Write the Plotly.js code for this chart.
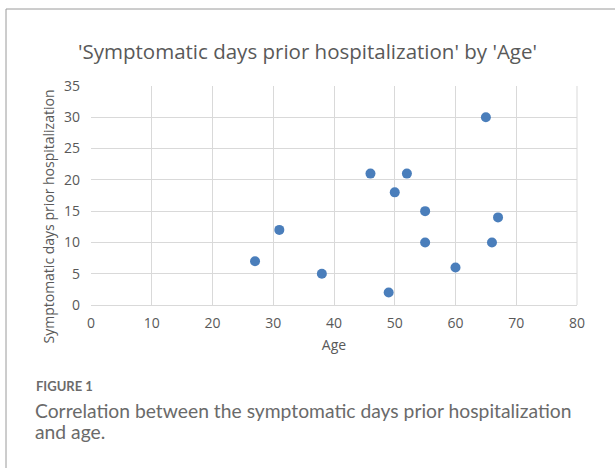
<!DOCTYPE html>
<html>
<head>
<meta charset="utf-8">
<script src="https://cdn.plot.ly/plotly-3.0.1.min.js"></script>
<style>
html,body{margin:0;padding:0;background:#fff;}
#chart{width:615px;height:468px;}
</style>
</head>
<body>
<div id="chart"></div>
<script>
const ages = [27, 31, 38, 46, 49, 50, 52, 55, 55, 60, 65, 66, 67];
const symptomaticDays = [7, 12, 5, 21, 2, 18, 21, 15, 10, 6, 30, 10, 14];
const xTicks = [0, 10, 20, 30, 40, 50, 60, 70, 80];
const yTicks = [0, 5, 10, 15, 20, 25, 30, 35];
const chartTitle = "'Symptomatic days prior hospitalization' by 'Age'";
const xTitle = 'Age';
const yTitle = 'Symptomatic days prior hospitalization';
const figLabel = 'FIGURE 1';
const captionLines = ['Correlation between the symptomatic days prior hospitalization', 'and age.'];

const W = 615, H = 468;
const m = {l: 91, r: 38, t: 86, b: 163};
const pw = W - m.l - m.r, ph = H - m.t - m.b;
const px = x => (x - m.l) / pw;
const py = y => (H - m.b - y) / ph;

const font = "Open Sans";
const capFont = "Lato";

const trace = {
  x: ages, y: symptomaticDays, type: 'scatter', mode: 'markers',
  marker: {color: '#4a7ebb', size: 10, line: {width: 0}},
  hoverinfo: 'x+y'
};

const layout = {
  width: W, height: H,
  margin: m,
  paper_bgcolor: '#fff', plot_bgcolor: '#fff',
  showlegend: false,
  font: {family: font, color: '#595959', size: 12},
  title: {text: chartTitle,
          font: {family: font, size: 20.5, color: '#595959'},
          x: 0.5, xanchor: 'center', y: 1 - 52/H, yanchor: 'middle'},
  xaxis: {range: [0, 80], tickvals: xTicks, ticktext: xTicks.map(String),
          showgrid: true, gridcolor: '#d9d9d9', gridwidth: 1,
          zeroline: false, showline: true, linecolor: '#d9d9d9', ticks: '',
          ticklabelstandoff: 5,
          tickfont: {family: font, size: 14, color: '#595959'},
          title: {text: xTitle, font: {family: font, size: 14, color: '#595959'}, standoff: 9},
          fixedrange: true},
  yaxis: {range: [0, 35], tickvals: yTicks, ticktext: yTicks.map(String),
          showgrid: true, gridcolor: '#d9d9d9', gridwidth: 1,
          zeroline: false, showline: false, ticks: '',
          ticklabelstandoff: 10,
          tickfont: {family: font, size: 14, color: '#595959'},
          fixedrange: true},
  shapes: [
    {type: 'line', xref: 'paper', yref: 'paper', x0: px(6), x1: px(620), y0: py(9), y1: py(9),
     line: {color: '#9a9a9a', width: 1}},
    {type: 'line', xref: 'paper', yref: 'paper', x0: px(6), x1: px(6), y0: py(9), y1: py(475),
     line: {color: '#9a9a9a', width: 1}},
    {type: 'line', xref: 'paper', yref: 'paper', x0: 1, x1: 1, y0: 0, y1: 1,
     line: {color: '#d9d9d9', width: 1}}
  ],
  annotations: [
    {xref: 'paper', yref: 'paper', x: px(47.5), y: py(217), xanchor: 'center', yanchor: 'middle',
     text: yTitle, textangle: -90, showarrow: false,
     font: {family: font, size: 14, color: '#595959'}},
    {xref: 'paper', yref: 'paper', x: px(34), y: py(386), xanchor: 'left', yanchor: 'middle',
     text: figLabel, showarrow: false,
     font: {family: capFont, size: 13, color: '#6b6b6b', weight: 'bold'}},
    {xref: 'paper', yref: 'paper', x: px(33), y: py(410), xanchor: 'left', yanchor: 'middle',
     text: captionLines[0], showarrow: false,
     font: {family: capFont, size: 19.3, color: '#6a6a6a'}},
    {xref: 'paper', yref: 'paper', x: px(33), y: py(431), xanchor: 'left', yanchor: 'middle',
     text: captionLines[1], showarrow: false,
     font: {family: capFont, size: 19.3, color: '#6a6a6a'}}
  ]
};

Plotly.newPlot('chart', [trace], layout, {displayModeBar: false, staticPlot: true});
</script>
</body>
</html>
